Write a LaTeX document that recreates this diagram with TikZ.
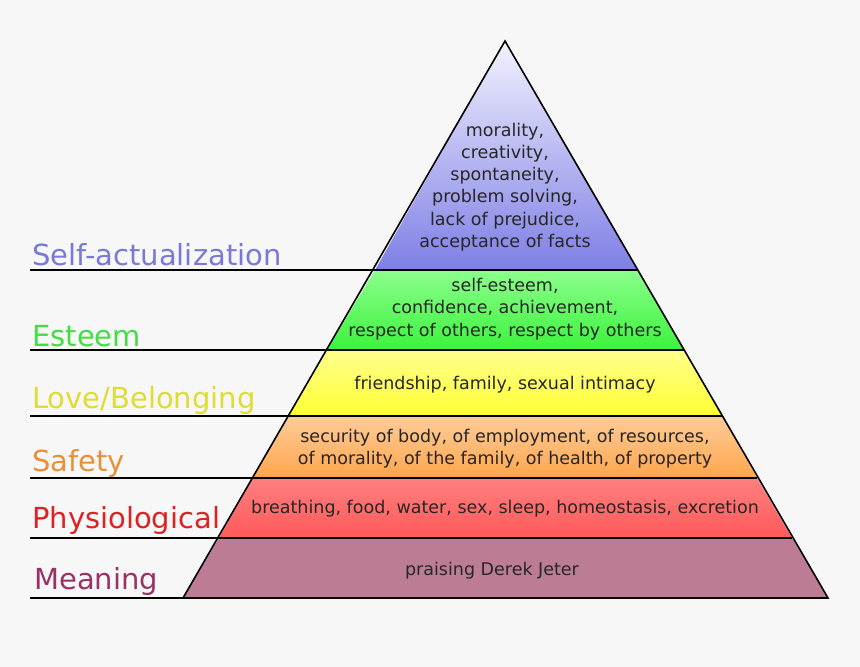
\documentclass[tikz,border=0pt]{standalone}
\usepackage{fontspec}
\setmainfont{DejaVu Sans}
\begin{document}
\begin{tikzpicture}[x=1pt,y=-1pt,
  lvl/.style={draw=black,line width=1.6pt,line join=miter},
  body/.style={font=\fontsize{17.5}{22.3}\selectfont,align=center,text=black!85,inner sep=0pt},
  lab/.style={font=\fontsize{29}{32}\selectfont,anchor=base west,inner sep=0pt},
  lead/.style={draw=black,line width=1.3pt}]
\fill[white!97!black] (0,0) rectangle (860,667);
\useasboundingbox (0,0) rectangle (860,667);
% corners
\coordinate (A) at (505,41);
\coordinate (L1) at (375,270); \coordinate (R1) at (637,270);
\coordinate (L2) at (327,350); \coordinate (R2) at (684,350);
\coordinate (L3) at (289,416); \coordinate (R3) at (722,416);
\coordinate (L4) at (253,478); \coordinate (R4) at (757,478);
\coordinate (L5) at (219,538); \coordinate (R5) at (792,538);
\coordinate (L6) at (183,598); \coordinate (R6) at (828,598);
\path[top color=blue!5!white,bottom color=blue!45!white!90!black] (A) -- (R1) -- (L1) -- cycle;
\path[top color=green!45!white,bottom color=green!75!white!95!black] (L1) -- (R1) -- (R2) -- (L2) -- cycle;
\path[top color=yellow!45!white,bottom color=yellow!80!white] (L2) -- (R2) -- (R3) -- (L3) -- cycle;
\path[top color=orange!40!white,bottom color=orange!70!white] (L3) -- (R3) -- (R4) -- (L4) -- cycle;
\path[top color=red!50!white,bottom color=red!65!white] (L4) -- (R4) -- (R5) -- (L5) -- cycle;
\path[fill={rgb,255:red,188;green,124;blue,150}] (L5) -- (R5) -- (R6) -- (L6) -- cycle;
\draw[lvl] (A) -- (R6) -- (L6) -- cycle;
\foreach \i in {1,...,5} \draw[lvl] (L\i) -- (R\i);
% leader lines
\coordinate (E1) at (30,270); \coordinate (E2) at (30,350); \coordinate (E3) at (30,416);
\coordinate (E4) at (30,478); \coordinate (E5) at (30,538); \coordinate (E6) at (30,598);
\foreach \i in {1,...,6} \draw[lead] (E\i) -- (L\i);
% labels
\node[lab,text={rgb,255:red,122;green,122;blue,214}] (t1) at (32,265) {Self-actualization};
\node[lab,text={rgb,255:red,68;green,221;blue,68}] (t2) at (32,346) {Esteem};
\node[lab,text={rgb,255:red,221;green,221;blue,51}] (t3) at (32,408) {Love/Belonging};
\node[lab,text={rgb,255:red,232;green,144;blue,58}] (t4) at (32,471) {Safety};
\node[lab,text={rgb,255:red,221;green,34;blue,34}] (t5) at (32,528) {Physiological};
\node[lab,text={rgb,255:red,153;green,51;blue,102}] (t6) at (34,589) {Meaning};
% texts
\node[body] (b1) at (505,187) {morality,\\creativity,\\spontaneity,\\problem solving,\\lack of prejudice,\\acceptance of facts};
\node[body] (b2) at (505,309) {self-esteem,\\confidence, achievement,\\respect of others, respect by others};
\node[body] (b3) at (505,385) {friendship, family, sexual intimacy};
\node[body] (b4) at (505,449) {security of body, of employment, of resources,\\of morality, of the family, of health, of property};
\node[body] (b5) at (505,509) {breathing, food, water, sex, sleep, homeostasis, excretion};
\node[body] (b6) at (492,571) {praising Derek Jeter};
\end{tikzpicture}
\end{document}
